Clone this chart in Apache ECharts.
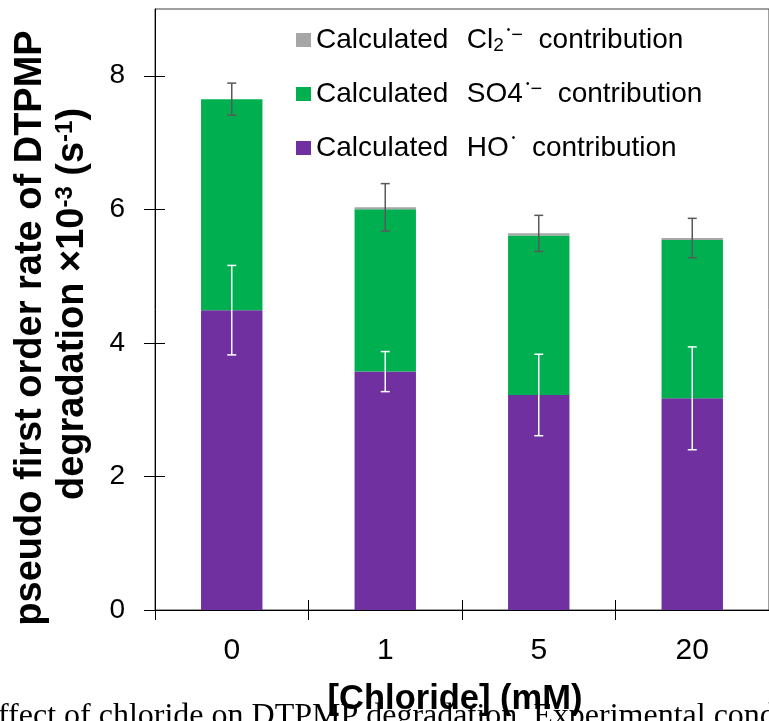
<!DOCTYPE html>
<html>
<head>
<meta charset="utf-8">
<script src="https://cdn.jsdelivr.net/npm/echarts@6/dist/echarts.min.js"></script>
<style>
html,body{margin:0;padding:0;background:#fff;}
#chart{width:769px;height:721px;}
</style>
</head>
<body>
<div id="chart"></div>
<script>
// ---- data ----
const categories = ['0', '1', '5', '20'];
const hoValues   = [4.49, 3.57, 3.22, 3.17];   // Calculated HO˙ contribution
const so4Values  = [3.16, 2.43, 2.39, 2.37];   // Calculated SO4˙⁻ contribution
const cl2Values  = [0.00, 0.03, 0.03, 0.03];   // Calculated Cl2˙⁻ contribution
const totalErr   = [0.24, 0.355, 0.27, 0.295]; // error on total rate
const hoErr      = [0.67, 0.30, 0.61, 0.77];   // error on HO˙ contribution
const yTicks     = [0, 2, 4, 6, 8];

const seriesNames = ['Calculated Cl2 contribution', 'Calculated SO4 contribution', 'Calculated HO contribution'];
const legendLabels = {
  'Calculated Cl2 contribution': 'Calculated  {n|Cl}{sub|2}{dot|•}{sup|−}  contribution',
  'Calculated SO4 contribution': 'Calculated  {n|SO4}{dot|•}{sup|−}  contribution',
  'Calculated HO contribution':  'Calculated  {n|HO}{dot|•}  contribution'
};

const FONT = 'Liberation Sans, Arial, sans-serif';
const totals = hoValues.map((v, i) => v + so4Values[i] + cl2Values[i]);

function errData(centers, errs) {
  return centers.map((c, i) => [i, c, errs[i]]);
}
function errRender(color) {
  return function (params, api) {
    const i = api.value(0), c = api.value(1), e = api.value(2);
    const top = api.coord([i, c + e]);
    const bot = api.coord([i, c - e]);
    const hw = 4.5;
    const st = { stroke: color, lineWidth: 1.5 };
    return {
      type: 'group',
      children: [
        { type: 'line', shape: { x1: top[0], y1: top[1], x2: bot[0], y2: bot[1] }, style: st },
        { type: 'line', shape: { x1: top[0] - hw, y1: top[1], x2: top[0] + hw, y2: top[1] }, style: st },
        { type: 'line', shape: { x1: bot[0] - hw, y1: bot[1], x2: bot[0] + hw, y2: bot[1] }, style: st }
      ]
    };
  };
}

const chart = echarts.init(document.getElementById('chart'), null, { renderer: 'canvas' });
const option = {
  backgroundColor: '#fff',
  animation: false,
  grid: { left: 155, top: 9, width: 620, height: 601, show: true, borderColor: '#404040', borderWidth: 1, containLabel: false },
  legend: {
    orient: 'vertical', left: 296, top: 25, padding: 0,
    itemWidth: 15, itemHeight: 14, itemGap: 24,
    icon: 'rect',
    data: seriesNames,
    selectedMode: false,
    formatter: n => legendLabels[n],
    textStyle: {
      fontFamily: FONT, fontSize: 28, color: '#000', lineHeight: 30,
      rich: {
        n:   { fontFamily: FONT, fontSize: 28, color: '#000', lineHeight: 30, padding: [0, 0, 0, 3] },
        sub: { fontFamily: FONT, fontSize: 19, color: '#000', verticalAlign: 'bottom', lineHeight: 17 },
        sup: { fontFamily: FONT, fontSize: 20, color: '#000', verticalAlign: 'top', lineHeight: 18 },
        dot: { fontFamily: FONT, fontSize: 10, color: '#000', verticalAlign: 'top', lineHeight: 12, padding: [0, 1, 0, 3] }
      }
    }
  },
  xAxis: [
    {
      type: 'category', data: categories, position: 'bottom',
      axisLine: { show: true, lineStyle: { color: '#000', width: 1 } },
      axisTick: { show: true, length: 10, inside: false, lineStyle: { color: '#000' } },
      axisLabel: { fontFamily: FONT, fontSize: 30, color: '#000', margin: 26 },
      splitLine: { show: false }
    },
    {
      type: 'category', data: categories, position: 'bottom', offset: 0,
      axisLine: { show: false },
      axisTick: { show: true, length: 10, inside: true, lineStyle: { color: '#000' } },
      axisLabel: { show: false },
      splitLine: { show: false }
    }
  ],
  yAxis: [
    {
      type: 'value', min: 0, max: 9, interval: 1, position: 'left',
      axisLine: { show: true, lineStyle: { color: '#000', width: 1 } },
      axisTick: { show: true, length: 11, inside: false, customValues: yTicks, lineStyle: { color: '#000' } },
      axisLabel: { fontFamily: FONT, fontSize: 28, color: '#000', margin: 30, customValues: yTicks },
      splitLine: { show: false }
    },
    {
      type: 'value', min: 0, max: 9, interval: 1, position: 'left', offset: 0,
      axisLine: { show: false },
      axisTick: { show: true, length: 10, inside: true, customValues: yTicks, lineStyle: { color: '#000' } },
      axisLabel: { show: false },
      splitLine: { show: false }
    }
  ],
  series: [
    { name: seriesNames[2], type: 'bar', stack: 'k', data: hoValues, barWidth: '40%', itemStyle: { color: '#7030A0' } },
    { name: seriesNames[1], type: 'bar', stack: 'k', data: so4Values, barWidth: '40%', itemStyle: { color: '#00B050' } },
    { name: seriesNames[0], type: 'bar', stack: 'k', data: cl2Values, barWidth: '40%', itemStyle: { color: '#A6A6A6' } },
    { type: 'custom', name: 'errTotal', data: errData(totals, totalErr), renderItem: errRender('#595959'), z: 10, encode: { x: 0, y: 1 } },
    { type: 'custom', name: 'errHO', data: errData(hoValues, hoErr), renderItem: errRender('#ffffff'), z: 10, encode: { x: 0, y: 1 } }
  ],
  graphic: [
    {
      type: 'text', x: 31, y: 328, rotation: Math.PI / 2,
      style: { text: 'pseudo first order rate of DTPMP', fontFamily: FONT, fontWeight: 'bold', fontSize: 38, fill: '#000', align: 'center', verticalAlign: 'middle' }
    },
    {
      type: 'text', x: 73, y: 304, rotation: Math.PI / 2,
      style: {
        text: 'degradation ×10{sup|-3} (s{sup|-1})', fontFamily: FONT, fontWeight: 'bold', fontSize: 38, fill: '#000', align: 'center', verticalAlign: 'middle', lineHeight: 40,
        rich: { sup: { fontFamily: FONT, fontWeight: 'bold', fontSize: 24, fill: '#000', verticalAlign: 'top', lineHeight: 24 } }
      }
    },
    {
      type: 'text', x: 455, y: 699, z: 5,
      style: { text: '[Chloride] (mM)', fontFamily: FONT, fontWeight: 'bold', fontSize: 34.5, fill: '#000', align: 'center', verticalAlign: 'middle' }
    },
    {
      type: 'text', x: -2, y: 701, z: -1,
      style: { text: 'ffect of chloride on DTPMP degradation. Experimental conditions', fontFamily: 'Liberation Serif, Times New Roman, serif', fontSize: 32, fill: '#000', align: 'left', verticalAlign: 'top' }
    }
  ]
};
chart.setOption(option);
</script>
</body>
</html>
